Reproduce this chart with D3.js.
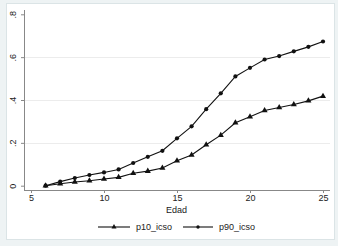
<!DOCTYPE html>
<html>
<head>
<meta charset="utf-8">
<script src="https://cdn.jsdelivr.net/npm/d3@7"></script>
<style>
  body { margin: 0; background: #eef3f4; }
  svg { display: block; font-family: "Liberation Sans", Arial, sans-serif; }
</style>
</head>
<body>
<script>
// values (Stata-like line plot)
var edad = [6, 7, 8, 9, 10, 11, 12, 13, 14, 15, 16, 17, 18, 19, 20, 21, 22, 23, 24, 25];
var p10 = [0, 0.009, 0.017, 0.023, 0.031, 0.039, 0.058, 0.068, 0.083, 0.116, 0.143, 0.191, 0.236, 0.294, 0.322, 0.351, 0.365, 0.379, 0.396, 0.418];
var p90 = [0, 0.019, 0.036, 0.05, 0.062, 0.076, 0.106, 0.135, 0.163, 0.221, 0.277, 0.357, 0.431, 0.51, 0.55, 0.589, 0.605, 0.627, 0.648, 0.673];
var xTicks = [5, 10, 15, 20, 25];
var yTicks = [0, 0.2, 0.4, 0.6, 0.8];
var yGrid = [0.2, 0.4, 0.6];
var seriesNames = ["p10_icso", "p90_icso"];

var W = 338, H = 246;
var svg = d3.select("body").append("svg").attr("width", W).attr("height", H);

// white graph region with thin frame
svg.append("rect").attr("x", 6.5).attr("y", 3.5).attr("width", 328).attr("height", 236)
  .attr("fill", "#fff").attr("stroke", "#dbe4e6");

var x = d3.scaleLinear().domain([5, 25]).range([31, 323]);
var y = d3.scaleLinear().domain([0, 0.8]).range([185.7, 14.3]);
var axisX = 24, axisY = 190;

// gridlines
svg.append("g").selectAll("line").data(yGrid).enter().append("line")
  .attr("x1", axisX).attr("x2", 330)
  .attr("y1", function(d) { return Math.round(y(d)) + 0.5; })
  .attr("y2", function(d) { return Math.round(y(d)) + 0.5; })
  .attr("stroke", "#ececec").attr("stroke-width", 1);

// axes
var xAxis = d3.axisBottom(x).tickValues(xTicks).tickSize(3).tickPadding(2).tickFormat(d3.format("d"));
var gx = svg.append("g").attr("transform", "translate(0," + axisY + ")").call(xAxis);
gx.select(".domain").attr("d", "M" + axisX + ",0.5H330").attr("stroke", "#888");
gx.selectAll(".tick line").attr("stroke", "#888");
gx.selectAll("text").attr("font-size", 9).attr("fill", "#222").attr("font-family", "Liberation Sans, Arial, sans-serif");

var yAxis = d3.axisLeft(y).tickValues(yTicks).tickSize(3).tickPadding(3)
  .tickFormat(function(d) { return d === 0 ? "0" : d3.format(".1f")(d).replace(/^0/, ""); });
var gy = svg.append("g").attr("transform", "translate(" + axisX + ",0)").call(yAxis);
gy.select(".domain").attr("d", "M0.5,10V" + axisY).attr("stroke", "#888");
gy.selectAll(".tick line").attr("stroke", "#888");
gy.selectAll("text").attr("font-size", 9).attr("fill", "#222").attr("font-family", "Liberation Sans, Arial, sans-serif")
  .attr("text-anchor", "middle")
  .attr("x", 0).attr("y", 0).attr("dy", "0")
  .attr("transform", "translate(-8,0) rotate(-90)");

svg.append("text").attr("x", 176.5).attr("y", 213).attr("text-anchor", "middle")
  .attr("font-size", 9).attr("fill", "#222").text("Edad");

// lines and markers
var line = d3.line().x(function(d) { return x(d[0]); }).y(function(d) { return y(d[1]); });
var d10 = edad.map(function(a, i) { return [a, p10[i]]; });
var d90 = edad.map(function(a, i) { return [a, p90[i]]; });

svg.append("path").datum(d10).attr("d", line).attr("fill", "none").attr("stroke", "#111").attr("stroke-width", 1.1);
svg.append("path").datum(d90).attr("d", line).attr("fill", "none").attr("stroke", "#111").attr("stroke-width", 1.1);

var tri = d3.symbol().type(d3.symbolTriangle).size(16);
var triSmall = d3.symbol().type(d3.symbolTriangle).size(11);
svg.append("g").selectAll("path").data(d10).enter().append("path")
  .attr("d", tri).attr("fill", "#111")
  .attr("transform", function(d) { return "translate(" + x(d[0]) + "," + y(d[1]) + ")"; });
svg.append("g").selectAll("circle").data(d90).enter().append("circle")
  .attr("cx", function(d) { return x(d[0]); }).attr("cy", function(d) { return y(d[1]); })
  .attr("r", 2.1).attr("fill", "#111");

// legend
var leg = svg.append("g");
var legY = 227;
var legItems = [{ x1: 98, x2: 130, tx: 136, kind: "tri" }, { x1: 183, x2: 213, tx: 219, kind: "dot" }];
legItems.forEach(function(it, i) {
  leg.append("line").attr("x1", it.x1).attr("x2", it.x2).attr("y1", legY).attr("y2", legY)
    .attr("stroke", "#111").attr("stroke-width", 1.1);
  var cx = (it.x1 + it.x2) / 2;
  if (it.kind === "tri") {
    leg.append("path").attr("d", triSmall).attr("fill", "#111").attr("transform", "translate(" + cx + "," + legY + ")");
  } else {
    leg.append("circle").attr("cx", cx).attr("cy", legY).attr("r", 1.7).attr("fill", "#111");
  }
  leg.append("text").attr("x", it.tx).attr("y", legY + 3.2).attr("font-size", 9).attr("fill", "#222").text(seriesNames[i]);
});
</script>
</body>
</html>
